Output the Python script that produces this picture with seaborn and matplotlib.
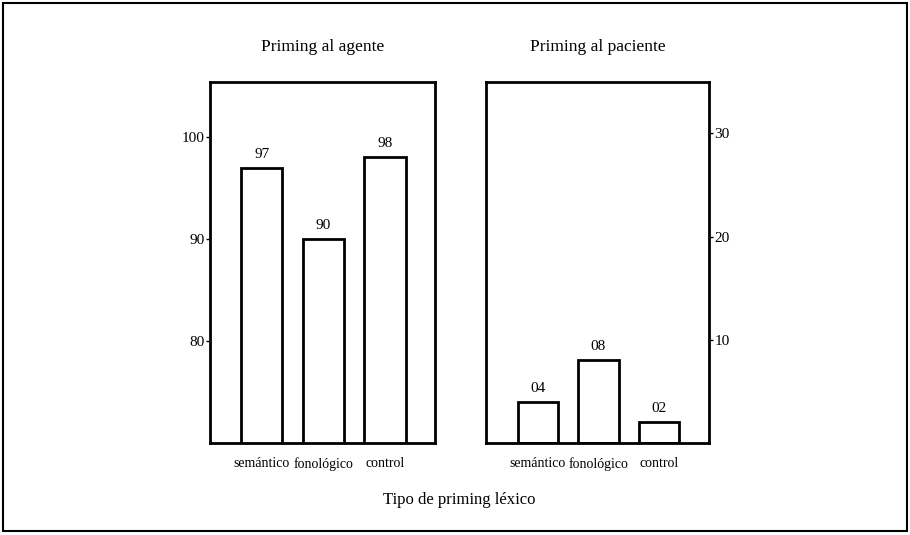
import numpy as np
import pandas as pd
import matplotlib
matplotlib.use("Agg")
import matplotlib.pyplot as plt
import seaborn as sns
from matplotlib.patches import Rectangle

# Data
categorias = ['semántico', 'fonológico', 'control']
agente = [97, 90, 98]
paciente = [4, 8, 2]
etiquetas_agente = ['97', '90', '98']
etiquetas_paciente = ['04', '08', '02']

df_agente = pd.DataFrame({'tipo': categorias, 'valor': agente})
df_paciente = pd.DataFrame({'tipo': categorias, 'valor': paciente})

sns.set_style("ticks")
plt.rcParams['font.family'] = ['Liberation Serif', 'DejaVu Serif']
plt.rcParams['axes.linewidth'] = 2
plt.rcParams['axes.edgecolor'] = 'black'
plt.rcParams['text.color'] = 'black'
plt.rcParams['xtick.color'] = 'black'
plt.rcParams['ytick.color'] = 'black'
plt.rcParams['xtick.labelcolor'] = 'black'
plt.rcParams['ytick.labelcolor'] = 'black'

fig = plt.figure(figsize=(9.1, 5.35), dpi=100)
ax1 = fig.add_axes([0.2308, 0.172, 0.2473, 0.675])
ax2 = fig.add_axes([0.534, 0.172, 0.245, 0.675])

# Left panel - priming al agente
sns.barplot(data=df_agente, x='tipo', y='valor', ax=ax1, color='white',
            edgecolor='black', linewidth=2, width=0.67, saturation=1)
ax1.set_ylim(70, 105.4)
ax1.set_xlim(-0.84, 2.81)
ax1.set_yticks([80, 90, 100])
ax1.bar_label(ax1.containers[0], labels=etiquetas_agente, padding=5, fontsize=11)
ax1.set_title('Priming al agente', fontsize=12.5, pad=22)

# Right panel - priming al paciente
sns.barplot(data=df_paciente, x='tipo', y='valor', ax=ax2, color='white',
            edgecolor='black', linewidth=2, width=0.67, saturation=1)
ax2.set_ylim(0, 35)
ax2.set_xlim(-0.86, 2.83)
ax2.set_yticks([10, 20, 30])
ax2.yaxis.tick_right()
ax2.bar_label(ax2.containers[0], labels=etiquetas_paciente, padding=5, fontsize=11)
ax2.set_title('Priming al paciente', fontsize=12.5, pad=22)

for ax in (ax1, ax2):
    for s in ax.spines.values():
        s.set_visible(True)
        s.set_linewidth(2)
        s.set_edgecolor('black')
    ax.set_xlabel('')
    ax.set_ylabel('')
    ax.tick_params(axis='x', length=0, pad=10, labelsize=10)
    ax.tick_params(axis='y', length=3, width=1, pad=1, labelsize=11, direction='out')

fig.text(0.505, 0.065, 'Tipo de priming léxico', ha='center', va='center', fontsize=12)

# outer frame of the scanned figure
fig.patches.append(Rectangle((0.003, 0.008), 0.994, 0.986, transform=fig.transFigure,
                             fill=False, edgecolor='black', linewidth=1.5))

fig.savefig('out.png', dpi=100)
